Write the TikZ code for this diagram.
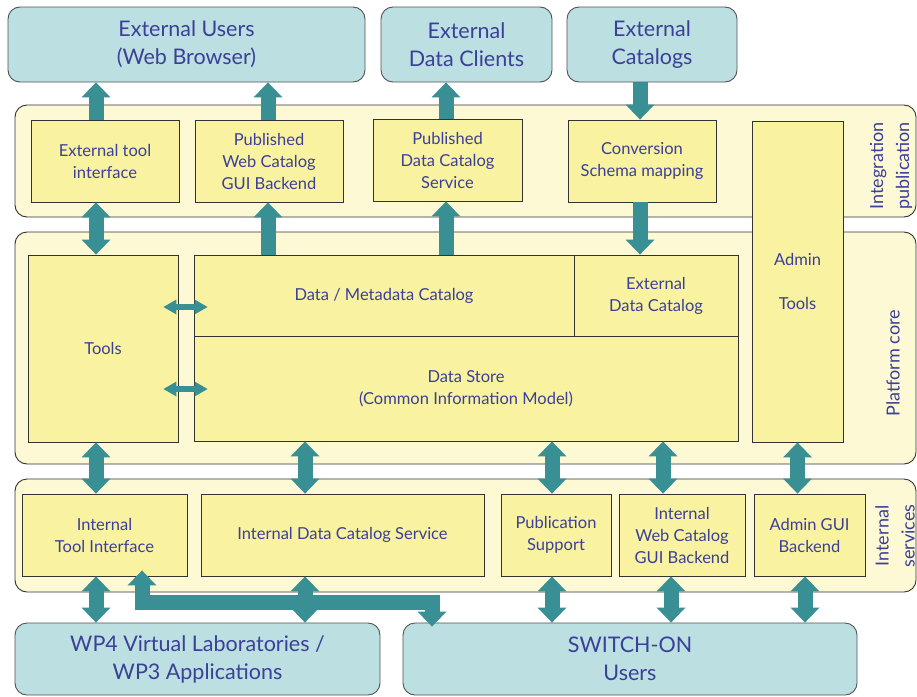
\documentclass[tikz,border=0pt]{standalone}
\usepackage{fontspec}
\setmainfont{Lato}
\usetikzlibrary{arrows.meta,calc}

\definecolor{ink}{HTML}{3B3F98}
\definecolor{edge}{HTML}{333333}
\definecolor{actorfill}{HTML}{BCE0E1}
\definecolor{bandfill}{HTML}{FDF9D4}
\definecolor{boxfill}{HTML}{F9F3A1}
\definecolor{flowc}{HTML}{388F94}

\tikzset{
  Bigtip/.tip={Triangle[width=29pt,length=15pt,line width=0pt]},
  Smalltip/.tip={Triangle[width=15pt,length=13pt,line width=0pt]},
}

\begin{document}
\begin{tikzpicture}[x=1pt,y=-1pt,
  txt/.style={text=ink, font=\fontsize{16.5}{22}\selectfont, align=center, inner sep=0pt},
  box/.style={draw=edge, line width=0.9pt, fill=boxfill, txt},
  actor/.style={draw=edge!85, line width=0.9pt, fill=actorfill, rounded corners=12pt,
    text=ink, font=\fontsize{21.5}{28}\selectfont, align=center, inner sep=0pt},
  band/.style={draw=edge, line width=0.9pt, fill=bandfill, rounded corners=12pt, inner sep=0pt},
  bandlabel/.style={txt, font=\fontsize{18}{26}\selectfont, rotate=90},
  flow/.style={draw=flowc, line width=15pt, line join=miter, -{Bigtip}},
  flow2/.style={draw=flowc, line width=15pt, line join=miter, {Bigtip}-{Bigtip}},
  flowS/.style={draw=flowc, line width=5.5pt, {Smalltip}-{Smalltip}},
]
\fill[white] (0,0) rectangle (917,696);
\useasboundingbox (0,0) rectangle (917,696);

% columns and rows used by the connectors
\coordinate (c1) at (96,0);
\coordinate (c2) at (142,0);
\coordinate (cPW) at (268,0);
\coordinate (cIS) at (305,0);
\coordinate (cPD) at (446,0);
\coordinate (cPS) at (552,0);
\coordinate (cCV) at (640,0);
\coordinate (cWC) at (663,0);
\coordinate (cWB) at (671,0);
\coordinate (cAD) at (797.5,0);
\coordinate (cAB) at (805,0);
\coordinate (r1) at (0,307);
\coordinate (r2) at (0,389);
\coordinate (bend) at (432,602);

% layer bands
\node[band, minimum width=901pt, minimum height=112pt] (integ) at (465.5,161) {};
\node[band, minimum width=901pt, minimum height=232pt] (core) at (465.5,348) {};
\node[band, minimum width=901pt, minimum height=113pt] (intern) at (465.5,535.5) {};

\node[bandlabel] (integlbl) at (891,166) {Integration\\publication};
\node[bandlabel] (corelbl) at (893,363) {Platform core};
\node[bandlabel] (internlbl) at (895,536) {Internal\\services};

% external actors
\node[actor, minimum width=357pt, minimum height=75pt] (eu) at (186.5,44.5) {External Users\\(Web Browser)};
\node[actor, minimum width=171pt, minimum height=75pt] (edc) at (466.5,44.5) {External\\Data Clients};
\node[actor, minimum width=170pt, minimum height=75pt] (ecat) at (652,44.5) {External\\Catalogs};
\node[actor, minimum width=365pt, minimum height=72pt] (wp) at (197.5,659) {WP4 Virtual Laboratories /\\WP3 Applications};
\node[actor, minimum width=454pt, minimum height=72pt] (sw) at (630,659) {SWITCH-ON\\Users};

% integration / publication
\node[box, minimum width=148pt, minimum height=82pt] (etif) at (105,161) {External tool\\interface};
\node[box, minimum width=148pt, minimum height=82pt] (pwc) at (269,161) {Published\\Web Catalog\\GUI Backend};
\node[box, minimum width=149pt, minimum height=82pt] (pdcs) at (447.5,160) {Published\\Data Catalog\\Service};
\node[box, minimum width=148pt, minimum height=82pt] (conv) at (642,161) {Conversion\\Schema mapping};

% platform core
\node[box, minimum width=150pt, minimum height=187pt] (tools) at (103,348.5) {Tools};
\node[box, minimum width=380pt, minimum height=81pt] (dmc) at (384,295.5) {Data / Metadata Catalog};
\node[box, minimum width=164pt, minimum height=81pt] (xdc) at (656,295.5) {External\\Data Catalog};
\node[box, minimum width=544pt, minimum height=105pt] (store) at (466,388.5) {Data Store\\(Common Information Model)};
\node[box, minimum width=91pt, minimum height=321pt] (admin) at (797.5,281.5) {};
\node[txt] (admintxt) at (797.5,281) {Admin\\[22pt]Tools};

% internal services
\node[box, minimum width=165pt, minimum height=82pt] (itif) at (104.5,535) {Internal\\Tool Interface};
\node[box, minimum width=283pt, minimum height=82pt] (idcs) at (342.5,535) {Internal Data Catalog Service};
\node[box, minimum width=110pt, minimum height=82pt] (pubs) at (556,535) {Publication\\Support};
\node[box, minimum width=126pt, minimum height=82pt] (iwc) at (682,535) {Internal\\Web Catalog\\GUI Backend};
\node[box, minimum width=111pt, minimum height=82pt] (agui) at (809.5,535) {Admin GUI\\Backend};

% connectors: publication side
\draw[flow] (etif.north -| c1) -- (eu.south -| c1);
\draw[flow] (pwc.north -| cPW) -- (eu.south -| cPW);
\draw[flow] (pdcs.north -| cPD) -- (edc.south -| cPD);
\draw[flow] (ecat.south -| cCV) -- (conv.north -| cCV);

% connectors: publication to core
\draw[flow2] (etif.south -| c1) -- (tools.north -| c1);
\draw[flow] (dmc.north -| cPW) -- (pwc.south -| cPW);
\draw[flow] (dmc.north -| cPD) -- (pdcs.south -| cPD);
\draw[flow] (conv.south -| cCV) -- (xdc.north -| cCV);

% connectors inside the core
\draw[flowS] ($(tools.east |- r1)+(-15,0)$) -- ($(dmc.west |- r1)+(14,0)$);
\draw[flowS] ($(tools.east |- r2)+(-15,0)$) -- ($(store.west |- r2)+(14,0)$);

% connectors: core to internal services
\draw[flow2] (tools.south -| c1) -- (itif.north -| c1);
\draw[flow2] (store.south -| cIS) -- (idcs.north -| cIS);
\draw[flow2] (store.south -| cPS) -- (pubs.north -| cPS);
\draw[flow2] (store.south -| cWC) -- (iwc.north -| cWC);
\draw[flow2] (admin.south -| cAD) -- (agui.north -| cAD);

% connectors: internal services to users
\draw[flow2] ($(itif.south -| c2)+(0,-6)$) |- (bend) -- ($(sw.north -| bend)+(0,4)$);
\draw[flow2] (itif.south -| c1) -- (wp.north -| c1);
\draw[flow2] (idcs.south -| cIS) -- (wp.north -| cIS);
\draw[flow2] (pubs.south -| cPS) -- (sw.north -| cPS);
\draw[flow2] (iwc.south -| cWB) -- (sw.north -| cWB);
\draw[flow2] (agui.south -| cAB) -- (sw.north -| cAB);
\end{tikzpicture}
\end{document}
